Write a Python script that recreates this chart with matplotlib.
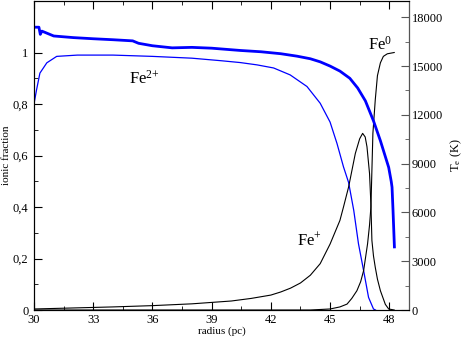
import numpy as np
import matplotlib.pyplot as plt
from matplotlib.ticker import MultipleLocator, FuncFormatter

plt.rcParams['font.family'] = ['Liberation Serif', 'DejaVu Serif']
plt.rcParams['mathtext.fontset'] = 'custom'
plt.rcParams['mathtext.rm'] = 'Liberation Serif'
plt.rcParams['mathtext.it'] = 'Liberation Serif'

# ---- data ----
r_fe2 = [30, 30.13, 30.3, 30.65, 31.15, 32.2, 34, 36, 38, 39.5, 40.45, 41.3, 42.14, 42.98,
         43.83, 44.5, 45.0, 45.35, 45.68, 45.94, 46.2, 46.44, 46.7, 46.95, 47.2, 47.3]
fe2 = [0.80, 0.855, 0.92, 0.96, 0.985, 0.99, 0.99, 0.985, 0.978, 0.968, 0.961, 0.952, 0.94,
       0.913, 0.868, 0.803, 0.73, 0.647, 0.556, 0.495, 0.387, 0.257, 0.153, 0.049, 0.004, 0.0]

r_fe1 = [30, 32, 34, 36, 38, 40, 41, 42, 42.5, 43, 43.5, 44, 44.5, 45, 45.5, 45.68, 45.94,
         46.28, 46.5, 46.65, 46.78, 46.87, 47.0, 47.07, 47.12, 47.2, 47.29, 47.4, 47.55,
         47.8, 47.97, 48.25]
fe1 = [0.004, 0.008, 0.012, 0.017, 0.024, 0.035, 0.045, 0.058, 0.07, 0.085, 0.105, 0.135,
       0.18, 0.256, 0.348, 0.40, 0.478, 0.608, 0.665, 0.686, 0.672, 0.634, 0.53, 0.41, 0.27,
       0.21, 0.166, 0.12, 0.075, 0.022, 0.004, 0.0]

r_fe0 = [30, 44, 45, 45.5, 45.86, 46.1, 46.36, 46.55, 46.7, 46.9, 47.0, 47.07, 47.17, 47.29,
         47.4, 47.55, 47.7, 47.9, 48.25]
fe0 = [0, 0, 0.004, 0.012, 0.023, 0.045, 0.075, 0.11, 0.153, 0.257, 0.33, 0.4, 0.686, 0.816,
       0.91, 0.96, 0.985, 0.995, 1.0]

r_te = [30, 30.25, 30.32, 30.4, 31, 32, 33, 34, 35, 35.3, 36, 37, 38, 39, 40.45, 41.5, 42.5,
        43.32, 44.0, 44.5, 45.0, 45.5, 46.0, 46.4, 46.79, 47.2, 47.55, 47.97, 48.1, 48.14,
        48.19, 48.26]
te = [17390, 17390, 16950, 17150, 16850, 16750, 16680, 16620, 16550, 16400, 16250, 16120,
      16150, 16100, 15960, 15880, 15760, 15610, 15450, 15260, 15000, 14690, 14250, 13650,
      12860, 11630, 10410, 8770, 7900, 7550, 6120, 3880]

fig = plt.figure(figsize=(4.63, 3.4), dpi=100)
ax = fig.add_axes([0.0734, 0.0882, 0.81, 0.9088])

ax.plot(r_fe2, fe2, color='blue', lw=0.9)
ax.plot(r_fe1, fe1, color='black', lw=0.8)
ax.plot(r_fe0, fe0, color='black', lw=0.8)

ax.set_xlim(30, 49)
ax.set_ylim(0, 1.2)
ax.xaxis.set_major_locator(MultipleLocator(3))
ax.xaxis.set_minor_locator(MultipleLocator(1.5))
ax.set_yticks([0, 0.2, 0.4, 0.6, 0.8, 1.0])
ax.yaxis.set_minor_locator(MultipleLocator(0.1))
ax.yaxis.set_major_formatter(FuncFormatter(lambda v, p: ('%g' % round(v, 2)).replace('.', ',')))
ax.tick_params(which='both', direction='in', top=True, right=False, labelsize=9)
ax.tick_params(axis='x', which='major', pad=3)
ax.tick_params(axis='y', which='major', pad=4)
ax.tick_params(which='major', length=6)
ax.tick_params(which='minor', length=3)
ax.set_xlabel('radius (pc)', fontsize=8, labelpad=0)
ax.set_ylabel('ionic fraction', fontsize=8, labelpad=1)

ax.text(34.8, 0.88, 'Fe$^{2{+}}$', fontsize=12)
ax.text(43.3, 0.25, 'Fe$^{+}$', fontsize=12)
ax.text(46.9, 1.01, 'Fe$^{0}$', fontsize=12)

ax2 = ax.twinx()
ax2.plot(r_te, te, color='blue', lw=2)
ax2.set_ylim(0, 19000)
ax2.yaxis.set_major_locator(MultipleLocator(3000))
ax2.yaxis.set_minor_locator(MultipleLocator(1500))
ax2.tick_params(which='both', direction='in', labelsize=9, pad=2, color='#555555')
ax2.tick_params(which='major', length=6)
ax2.tick_params(which='minor', length=3)
ax2.spines['right'].set_color('#555555')
ax2.set_ylabel('T$_e$ (K)', fontsize=9, labelpad=4)

fig.savefig('out.png', dpi=100)
